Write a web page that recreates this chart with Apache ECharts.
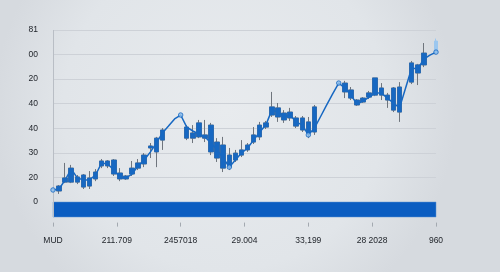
<!DOCTYPE html>
<html><head><meta charset="utf-8">
<script src="https://cdn.jsdelivr.net/npm/echarts@6/dist/echarts.min.js"></script>
<style>html,body{margin:0;padding:0;}#c{width:500px;height:272px;}</style>
</head><body><div id="c"></div>
<script>
// ---- data ----
const slots = ['0','1','2','3','4','5','6','7','8','9','10','11','12','13','14','15','16','17','18','19','20','21','22','23','24','25','26','27','28','29','30','31','32','33','34','35','36','37','38','39','40','41','42','43','44','45','46','47','48','49','50','51','52','53','54','55','56','57','58','59','60','61','62','63'];
const lineValues = [4.9,5.3,9.0,13.4,9.8,9.0,9.0,11.0,15.9,15.5,13.0,10.2,9.8,11.4,14.7,17.1,20.3,24.0,28.1,30.9,33.8,35.4,30.5,28.9,27.7,26.5,24.0,21.2,17.9,14.2,17.1,19.9,22.0,25.2,28.5,31.3,37.4,36.6,34.6,35.4,32.6,31.3,27.3,30.1,34.7,39.4,44.0,48.4,46.4,43.5,39.9,41.1,42.7,44.4,44.4,42.3,40.3,38.3,46.4,54.5,54.1,58.2,59.8,61.0];
// [open, close, low, high]
const candles = ['-',[4.5,6.5,3.3,6.9],[8.1,9.8,7.7,15.9],[8.1,13.8,7.7,15.1],[8.1,10.2,7.3,11.0],[6.1,11.0,5.3,11.4],[6.5,9.8,5.3,12.6],[9.4,12.2,8.5,13.4],[14.7,16.7,13.8,17.5],[14.7,16.7,13.8,17.1],[11.4,17.1,10.6,17.5],[9.4,11.8,8.5,13.8],[9.4,10.6,9.0,11.0],[11.4,13.8,10.6,16.7],[13.8,15.9,13.0,17.5],[15.5,19.1,14.2,19.9],[22.0,22.8,17.9,24.0],[20.4,26.0,14.2,26.5],[25.2,29.3,21.2,30.1],'-','-','-',[26.0,30.5,25.2,31.3],[26.0,28.1,24.0,31.3],[26.5,32.2,26.0,33.4],[26.0,27.3,24.4,33.4],[20.4,31.3,19.1,32.2],[17.9,24.4,16.3,26.0],[13.8,23.2,12.2,26.5],[14.2,19.1,13.0,22.0],[17.1,19.9,16.3,21.2],[19.1,21.2,18.3,25.2],[21.2,23.2,20.4,24.0],[24.4,27.3,23.6,30.5],[26.5,31.3,25.2,32.6],[30.5,32.2,29.7,33.0],[35.4,38.7,34.6,44.8],[34.6,38.3,32.6,40.3],[33.4,36.2,32.2,37.4],[34.2,36.6,33.0,38.3],[30.9,34.2,30.1,35.0],[29.3,34.2,28.5,35.0],[28.1,32.6,26.0,34.6],[28.5,38.7,27.3,39.5],'-','-','-','-',[44.8,48.4,42.3,49.3],[42.3,45.6,41.5,46.8],[39.5,41.5,39.1,41.9],[40.7,42.3,40.3,42.7],[42.7,44.4,41.9,45.2],[43.5,50.5,43.1,50.5],[43.5,46.4,41.5,48.4],[41.5,43.5,38.3,44.4],[37.4,46.4,36.6,46.8],[36.6,46.8,32.6,48.8],'-',[48.8,56.6,48.0,57.4],[52.5,55.8,47.6,56.2],[55.8,60.6,54.9,64.7],'-','-'];
const lightCandleIndex = 63;
const lightCandle = [61.0,65.5,60.6,66.5];
const markerIndices = [0,21,29,42,47,63];
const yTickValues = [0,10,20,30,40,50,60,70];
const yTickLabels = ['0','20','30','40','40','20','00','81'];
const xTickLabels = ['MUD','211.709','2457018','29.004','33,199','28 2028','960'];
const band = [0,-6.1];

// ---- build ----
const BLUE = '#1768c2';
const bodies = candles.map(c => c === '-' ? '-' : [c[0], c[1], Math.min(c[0],c[1]), Math.max(c[0],c[1])]);
const lightData = slots.map((s,i) => i === lightCandleIndex ? lightCandle : '-');
const markerData = markerIndices.map(i => [i, lineValues[i]]);
const font = 'Liberation Sans, Arial, sans-serif';
const GRID = '#cdd1d7';

const chart = echarts.init(document.getElementById('c'));
chart.setOption({
  animation: false,
  backgroundColor: {type:'radial', x:0.45, y:0.4, r:0.85, colorStops:[{offset:0,color:'#e8ebee'},{offset:0.7,color:'#e1e5e9'},{offset:1,color:'#d6dadf'}]},
  grid: {left:53, right:64, top:30, bottom:45.4},
  xAxis: [
    {type:'category', data:slots, boundaryGap:false, axisLine:{show:false}, axisTick:{show:false}, axisLabel:{show:false}, splitLine:{show:false}},
    {type:'value', min:0, max:6, interval:1, position:'bottom',
     axisLine:{show:false}, splitLine:{show:false},
     axisTick:{show:true, inside:true, length:4, lineStyle:{color:'#a3a9b0'}},
     axisLabel:{margin:10, fontSize:8.5, color:'#22262c', fontFamily:font, formatter:v => xTickLabels[v] ?? ''}}
  ],
  yAxis: {type:'value', min:-10, max:70, interval:10,
    axisLine:{show:false}, axisTick:{show:false},
    axisLabel:{margin:15, fontSize:8.5, color:'#22262c', fontFamily:font, formatter:v => { const k = yTickValues.indexOf(v); return k < 0 ? '' : yTickLabels[k]; }},
    splitLine:{show:true, lineStyle:{width:1, color:['rgba(0,0,0,0)',GRID,GRID,GRID,GRID,GRID,GRID,GRID,GRID]}}
  },
  series: [
    {type:'line', data:lineValues, showSymbol:false, symbol:'none', z:3,
     lineStyle:{color:BLUE, width:1.5},
     markArea:{silent:true, itemStyle:{color:'#0b5dc1', borderColor:'#5a92d2', borderWidth:0.5}, data:[[{yAxis:band[0]},{yAxis:band[1]}]]},
     markLine:{silent:true, symbol:'none', label:{show:false}, lineStyle:{color:'#b9bec5', width:1, type:'solid'},
       data:[[{coord:[0,70]},{coord:[0,band[1]]}]]}
    },
    {type:'candlestick', data:candles, barWidth:5, z:2,
     itemStyle:{color:'#6f757d', color0:'#6f757d', borderColor:'#6f757d', borderColor0:'#6f757d', borderWidth:1}},
    {type:'candlestick', data:bodies, barWidth:5, z:4,
     itemStyle:{color:BLUE, color0:BLUE, borderColor:BLUE, borderColor0:BLUE, borderWidth:0.5}},
    {type:'candlestick', data:lightData, barWidth:4, z:4,
     itemStyle:{color:'#9cc7ef', color0:'#9cc7ef', borderColor:'#9cc7ef', borderColor0:'#9cc7ef', borderWidth:1}},
    {type:'scatter', data:markerData, symbol:'circle', symbolSize:4.5, z:5,
     itemStyle:{color:'#8fbfec', borderColor:BLUE, borderWidth:1}}
  ]
});
</script></body></html>
